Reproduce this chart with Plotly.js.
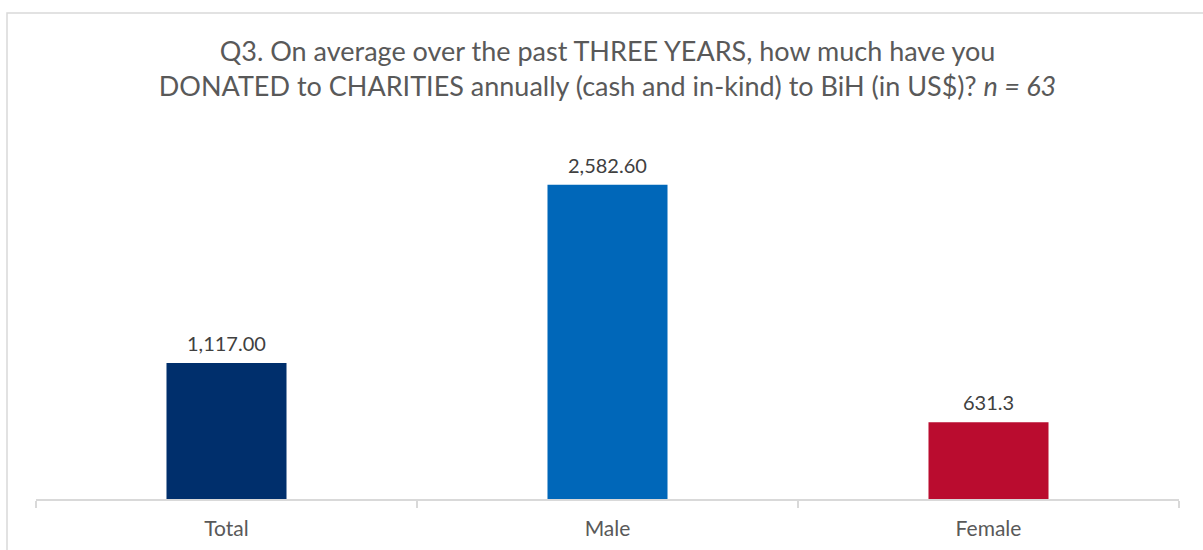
<!DOCTYPE html>
<html>
<head>
<meta charset="utf-8">
<script src="https://cdn.plot.ly/plotly-3.0.1.min.js"></script>
<style>
html, body { margin: 0; padding: 0; background: #fff; }
#chart { width: 1203px; height: 550px; }
</style>
</head>
<body>
<div id="chart"></div>
<script>
const categories = ["Total", "Male", "Female"];
const values = [1117.00, 2582.60, 631.3];
const valueLabels = ["1,117.00", "2,582.60", "631.3"];
const barColors = ["#002F6C", "#0067B9", "#BA0C2F"];

const titleText = "Q3. On average over the past THREE YEARS, how much have you<br>DONATED to CHARITIES annually (cash and in-kind) to BiH (in US$)? <i>n = 63</i>";

const fontFam = "Lato, 'Open Sans', sans-serif";

const trace = {
  type: "bar",
  x: categories,
  y: values,
  marker: { color: barColors },
  hoverinfo: "x+y"
};

const labelAnnotations = categories.map((c, i) => ({
  x: c, y: values[i], xref: "x", yref: "y",
  text: valueLabels[i],
  showarrow: false,
  yanchor: "bottom",
  yshift: 6,
  font: { family: fontFam, size: 20, color: "#404040" }
}));

const W = 1203, H = 550;
const m = { l: 36, r: 24, t: 134, b: 51 };
const pw = W - m.l - m.r, ph = H - m.t - m.b;

const layout = {
  width: W, height: H,
  margin: m,
  paper_bgcolor: "#fff",
  plot_bgcolor: "#fff",
  bargap: 0.685,
  showlegend: false,
  title: {
    text: titleText,
    font: { family: fontFam, size: 27, color: "#595959" },
    x: 0.505, xanchor: "center",
    y: 0.89, yanchor: "top",
    yref: "container"
  },
  xaxis: {
    type: "category",
    showline: true, linecolor: "#D9D9D9", linewidth: 1.5,
    ticks: "outside", tickson: "boundaries", ticklen: 7, tickcolor: "#D9D9D9", tickwidth: 1.5,
    ticklabelstandoff: 10,
    showgrid: false, zeroline: false,
    tickfont: { family: fontFam, size: 21, color: "#595959" }
  },
  yaxis: {
    range: [0, 3000],
    visible: false,
    showgrid: false, zeroline: false
  },
  annotations: labelAnnotations,
  shapes: [{
    type: "rect", xref: "paper", yref: "paper",
    x0: (7 - m.l) / pw, x1: (1215 - m.l) / pw,
    y0: (H - m.b - 560) / ph, y1: (H - m.b - 13) / ph,
    line: { color: "#D9D9D9", width: 1.5 },
    fillcolor: "rgba(0,0,0,0)",
    layer: "below"
  }]
};

Plotly.newPlot("chart", [trace], layout, { displayModeBar: false, staticPlot: true });
</script>
</body>
</html>
